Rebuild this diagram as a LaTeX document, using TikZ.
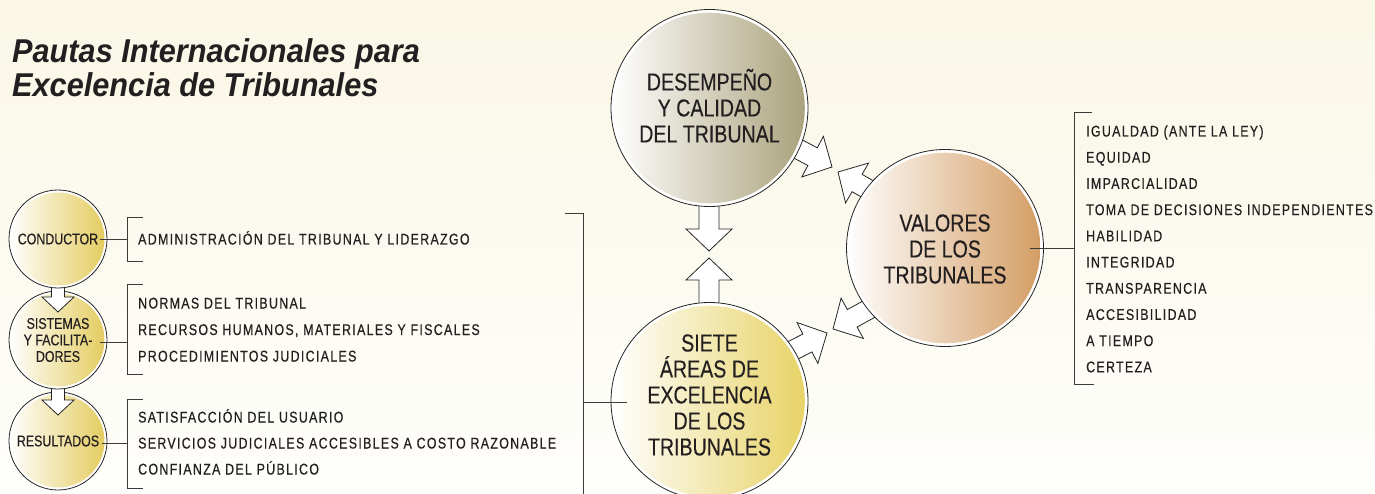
\documentclass[tikz,border=0pt]{standalone}
\usepackage{fontspec}
\setmainfont{Liberation Sans}
\newfontfamily\cond[FakeStretch=0.8,FakeBold=0.3]{Liberation Sans}
\newfontfamily\condls[FakeStretch=0.8,LetterSpace=8.5,FakeBold=0.4]{Liberation Sans}
\newfontfamily\titlefont[FakeStretch=0.93]{Liberation Sans}
\usetikzlibrary{calc}
\definecolor{bgtop}{HTML}{FAF7E6}
\definecolor{bgbot}{HTML}{FEFEFB}
\definecolor{ink}{HTML}{231F20}
\definecolor{lineC}{HTML}{3C3A3A}
\definecolor{yelC}{HTML}{E7D264}
\definecolor{yelS}{HTML}{E3CB5C}
\definecolor{olvC}{HTML}{A9A17B}
\definecolor{valC}{HTML}{D39C62}
\tikzset{
  pics/fatarr/.style n args={4}{code={
    \draw[fill=white, draw=black!85, line width=0.8pt, line join=miter]
      (0,0) -- (-#2,#3) -- (-#2,#4) -- (-#1,#4) -- (-#1,-#4) -- (-#2,-#4) -- (-#2,-#3) -- cycle;}},
}
\begin{document}
\begin{tikzpicture}[x=1pt,y=-1pt,
  lst/.style={anchor=base west, inner sep=0, font=\condls\fontsize{15.5}{16}\selectfont, text=ink},
  ln/.style={draw=lineC, line width=0.8pt},
  bigc/.style={circle, inner sep=0, minimum size=197pt, draw=black!85, line width=0.8pt, fill=white,
    path picture={\shade[left color=white, right color=#1] (path picture bounding box.center) circle (95.3pt);}},
  bigt/.style={align=center, inner sep=0, text=ink, font=\cond\fontsize{24.5}{26}\selectfont},
  smallc/.style={circle, inner sep=0, minimum size=98pt, draw=black!85, line width=0.8pt, fill=white,
    path picture={\shade[left color=white, right color=#1] (path picture bounding box.center) circle (46.5pt);}},
  smallt/.style={align=center, inner sep=0, text=ink, font=\cond\fontsize{15.5}{16.5}\selectfont},
]
\useasboundingbox (0,0) rectangle (1375,494);
\fill[top color=bgtop, bottom color=bgbot] (0,0) rectangle (1375,494);

% title
\node[anchor=base west, inner sep=0, align=left, text=ink,
  font=\titlefont\bfseries\itshape\fontsize{33}{34}\selectfont] (title) at (12,97)
  {Pautas Internacionales para\\Excelencia de Tribunales};

% big arrows (drawn below circles)
\pic[rotate=-90] at (709,251) {fatarr={70}{22}{23}{10}};
\pic[rotate=90] at (709,258) {fatarr={70}{22}{23}{10}};
\pic[rotate=-28] at (832,167) {fatarr={70}{22}{23}{10}};
\pic[rotate=150] at (838,172) {fatarr={70}{22}{23}{10}};
\pic[rotate=27] at (827,333) {fatarr={70}{22}{23}{10}};
\pic[rotate=-151] at (833,329) {fatarr={70}{22}{23}{10}};

% big circles
\node[bigc=olvC] (des) at (709.5,108) {};
\node[bigc=yelC] (siete) at (709.5,401) {};
\node[bigc=valC] (val) at (945,248) {};
\node[bigt] (desT) at (709.5,108) {DESEMPE\smash{Ñ}O\\Y CALIDAD\\DEL TRIBUNAL};
\node[bigt] (sieteT) at (709.5,395) {SIETE\\ÁREAS DE\\EXCELENCIA\\DE LOS\\TRIBUNALES};
\node[bigt] (valT) at (945,249) {VALORES\\DE LOS\\TRIBUNALES};

% small circles with arrows
\node[smallc=yelS] (c3) at (58,441) {};
\pic[rotate=-90] at (58,415) {fatarr={30}{15}{16}{6.5}};
\node[smallc=yelS] (c2) at (58,340) {};
\pic[rotate=-90] at (58,312) {fatarr={30}{15}{16}{6.5}};
\node[smallc=yelS] (c1) at (58,239) {};
\node[smallt] (c1T) at (58,239) {CONDUCTOR};
\node[smallt] (c2T) at (58,340) {SISTEMAS\\Y FACILITA-\\DORES};
\node[smallt] (c3T) at (58,441) {RESULTADOS};

% brackets of left lists
\coordinate (b1) at (127,239);
\coordinate (b2) at (127,342);
\coordinate (b3) at (127,443);
\draw[ln] (143,217) -- (127,217) -- (127,261) -- (143,261);
\draw[ln] (143,284) -- (127,284) -- (127,374) -- (143,374);
\draw[ln] (143,399) -- (127,399) -- (127,488) -- (143,488);
\draw[ln] ($(c1.east)+(-7,0)$) -- (b1);
\draw[ln] ($(c2.east)+(-7,2)$) -- (b2);
\draw[ln] ($(c3.east)+(-5,2)$) -- (b3);

% big left bracket
\coordinate (bb) at (583,402);
\draw[ln] (565,213) -- (583,213) -- (583,500);
\draw[ln] (bb) -- ($(siete.west)+(16,1)$);

% right bracket
\coordinate (rb) at (1074,248);
\draw[ln] (1092,112) -- (1074,112) -- (1074,384) -- (1094,384);
\draw[ln] ($(val.east)+(-14,0)$) -- (rb);

% left list texts
\node[lst] (t1) at (138,244.5) {ADMINISTRACIÓN DEL TRIBUNAL Y LIDERAZGO};
\node[lst] (t2) at (138,308.5) {NORMAS DEL TRIBUNAL};
\node[lst] (t3) at (138,335) {RECURSOS HUMANOS, MATERIALES Y FISCALES};
\node[lst] (t4) at (138,361.5) {PROCEDIMIENTOS JUDICIALES};
\node[lst] (t5) at (138,422.5) {SATISFACCIÓN DEL USUARIO};
\node[lst] (t6) at (138,448.5) {SERVICIOS JUDICIALES ACCESIBLES A COSTO RAZONABLE};
\node[lst] (t7) at (138,474.5) {CONFIANZA DEL PÚBLICO};

% values list
\node[lst] (v1) at (1086,136.5) {IGUALDAD (ANTE LA LEY)};
\node[lst] (v2) at (1086,162.7) {EQUIDAD};
\node[lst] (v3) at (1086,188.9) {IMPARCIALIDAD};
\node[lst] (v4) at (1086,215.1) {TOMA DE DECISIONES INDEPENDIENTES};
\node[lst] (v5) at (1086,241.3) {HABILIDAD};
\node[lst] (v6) at (1086,267.5) {INTEGRIDAD};
\node[lst] (v7) at (1086,293.7) {TRANSPARENCIA};
\node[lst] (v8) at (1086,319.9) {ACCESIBILIDAD};
\node[lst] (v9) at (1086,346.1) {A TIEMPO};
\node[lst] (v10) at (1086,372.3) {CERTEZA};
\end{tikzpicture}
\end{document}
